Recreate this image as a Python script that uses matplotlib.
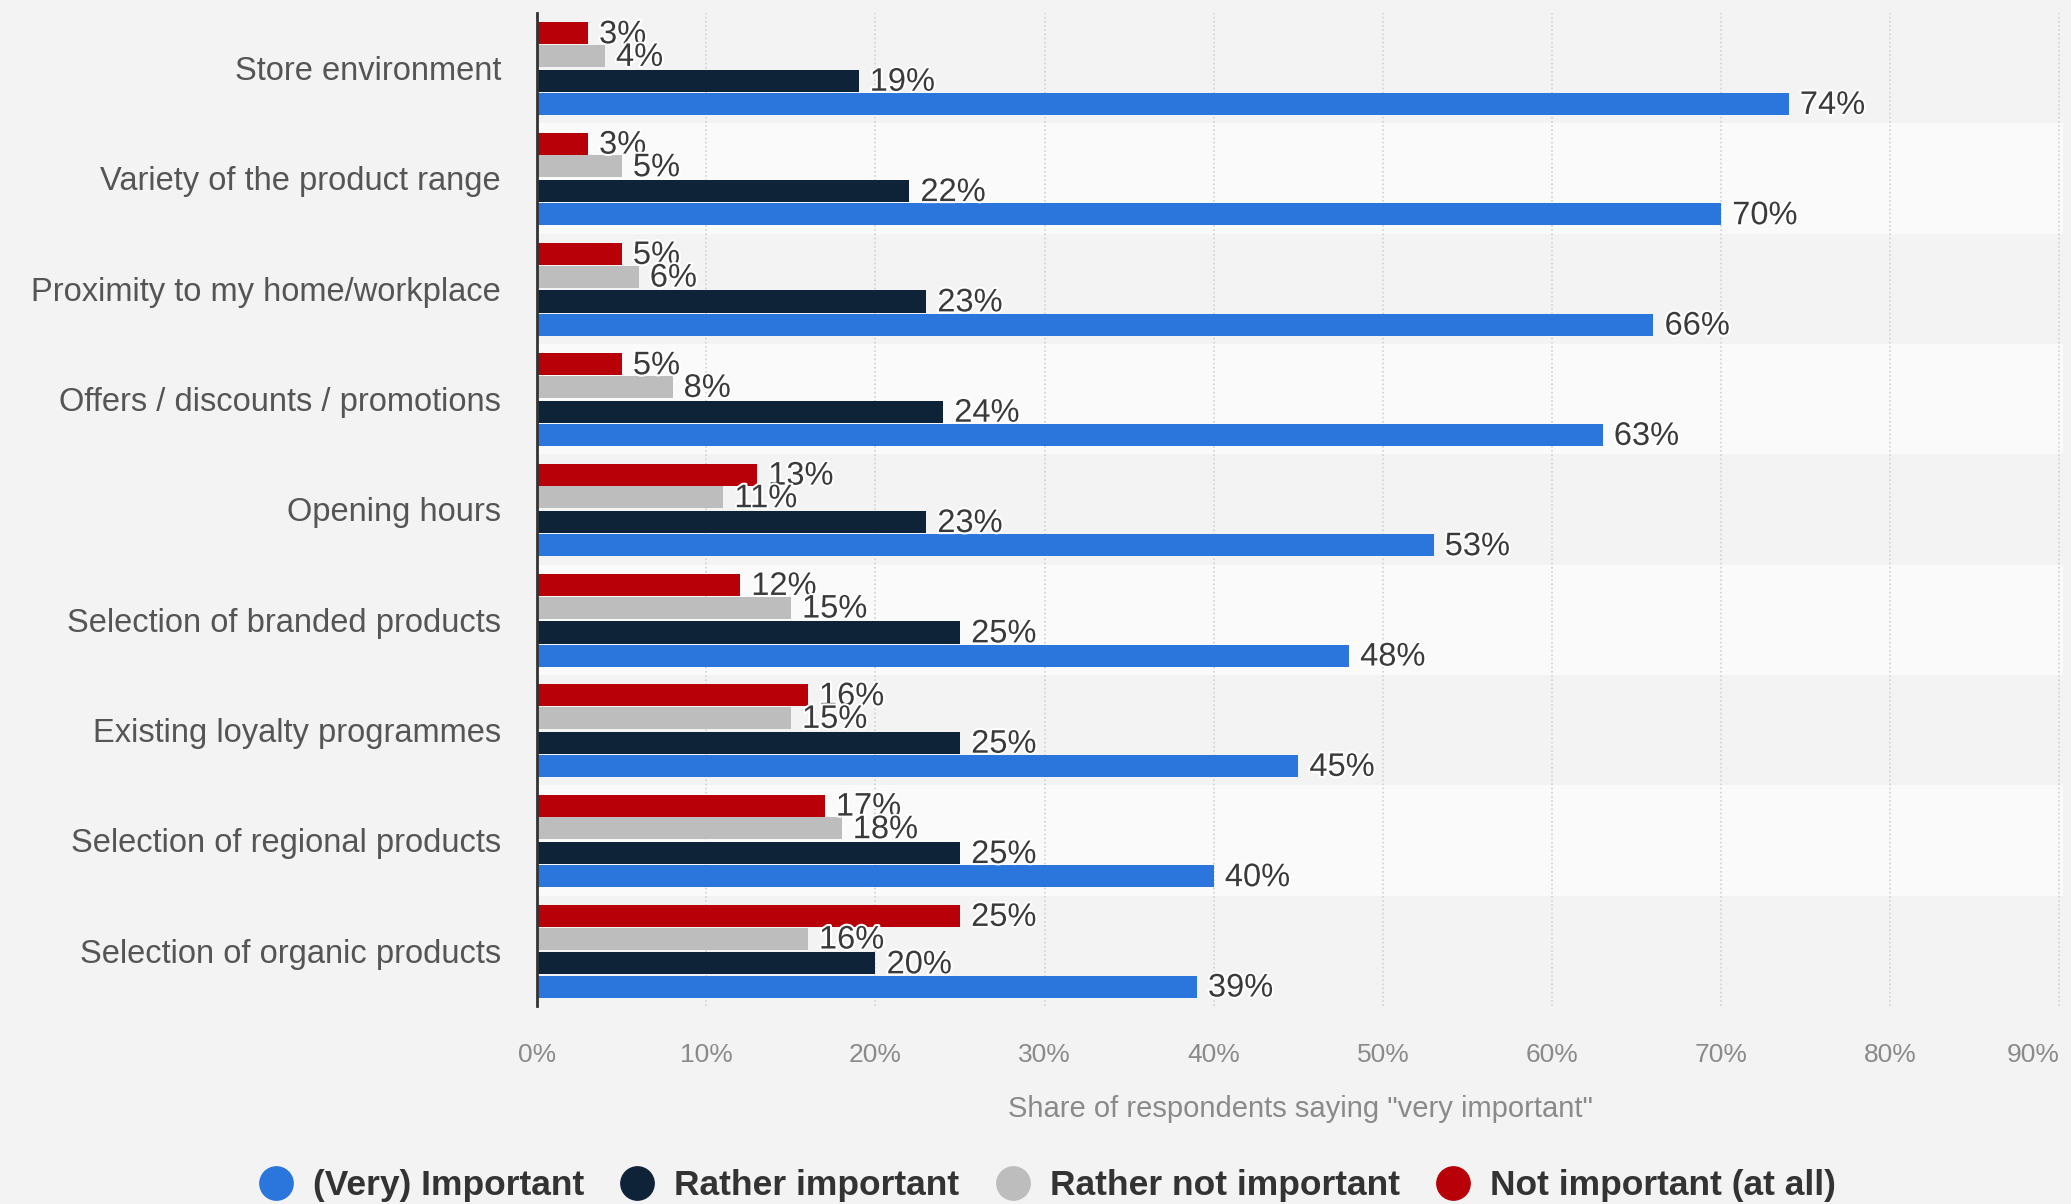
import matplotlib.pyplot as plt
import matplotlib.patheffects as pe
from matplotlib.lines import Line2D
import numpy as np

plt.rcParams['font.family'] = ['Liberation Sans', 'DejaVu Sans']

categories = [
    'Store environment',
    'Variety of the product range',
    'Proximity to my home/workplace',
    'Offers / discounts / promotions',
    'Opening hours',
    'Selection of branded products',
    'Existing loyalty programmes',
    'Selection of regional products',
    'Selection of organic products',
]

not_important = [3, 3, 5, 5, 13, 12, 16, 17, 25]
rather_not = [4, 5, 6, 8, 11, 15, 15, 18, 16]
rather_important = [19, 22, 23, 24, 23, 25, 25, 25, 20]
very_important = [74, 70, 66, 63, 53, 48, 45, 40, 39]

series_names = ['(Very) Important', 'Rather important',
                'Rather not important', 'Not important (at all)']
colors = ['#2a76dd', '#0e2238', '#bdbdbd', '#b80008']

BG = '#f3f3f3'
STRIPE = '#fafafa'

fig = plt.figure(figsize=(20.71, 12.04), dpi=100, facecolor=BG)
ax = fig.add_axes([0.2594, 0.1645, 0.7366, 0.8247])
ax.set_facecolor(BG)

y = np.arange(len(categories))
bar_h = 0.2

# alternating row bands
for i in range(len(categories)):
    if i % 2 == 1:
        ax.axhspan(i - 0.5, i + 0.5, color=STRIPE, zorder=0, lw=0)

# bars from top to bottom inside each group: red, gray, navy, blue
groups = [
    (not_important, colors[3], -0.315),
    (rather_not, colors[2], -0.11),
    (rather_important, colors[1], 0.115),
    (very_important, colors[0], 0.325),
]

halo = [pe.withStroke(linewidth=3, foreground='white')]
for vals, col, off in groups:
    bars = ax.barh(y + off, vals, height=bar_h, color=col, zorder=3)
    for bar, v in zip(bars, vals):
        ax.annotate(f'{v}%', (bar.get_width(), bar.get_y() + bar.get_height() / 2),
                    xytext=(8, -1), textcoords='offset points',
                    ha='left', va='center', fontsize=23.5, color='#3a3a3a',
                    path_effects=halo, zorder=5)

ax.set_xlim(0, 90.2)
ax.set_ylim(len(categories) - 0.5, -0.5)

ax.set_xticks(np.arange(0, 100, 10))
ax.set_xticklabels([f'{t}%' for t in range(0, 100, 10)])
ax.tick_params(axis='x', length=0, pad=27, labelsize=19, labelcolor='#8a8a8a')
ax.get_xticklabels()[-1].set_ha('right')
ax.set_yticks(y)
ax.set_yticklabels(categories)
ax.tick_params(axis='y', length=0, pad=26, labelsize=23.5, labelcolor='#555555')

for xv in range(10, 100, 10):
    ax.axvline(xv, color='#d2d2d2', lw=1.2, ls=(0, (1, 1.5)), zorder=1)

for side in ['top', 'right', 'bottom']:
    ax.spines[side].set_visible(False)
ax.spines['left'].set_color('#333333')
ax.spines['left'].set_linewidth(2)
ax.spines['left'].set_zorder(6)

ax.set_xlabel('Share of respondents saying "very important"',
              fontsize=21, color='#8a8a8a', labelpad=20)

handles = [Line2D([0], [0], marker='o', ls='none', markersize=24,
                  markerfacecolor=c, markeredgecolor=c) for c in colors]
leg = fig.legend(handles, series_names, loc='center', ncol=4,
                 bbox_to_anchor=(0.5055, 0.015), frameon=False,
                 handlelength=1.0, handletextpad=0.55, columnspacing=1.0,
                 prop={'size': 25.5, 'weight': 'bold'})
for t in leg.get_texts():
    t.set_color('#333333')

fig.savefig('out.png', dpi=100, facecolor=BG)
